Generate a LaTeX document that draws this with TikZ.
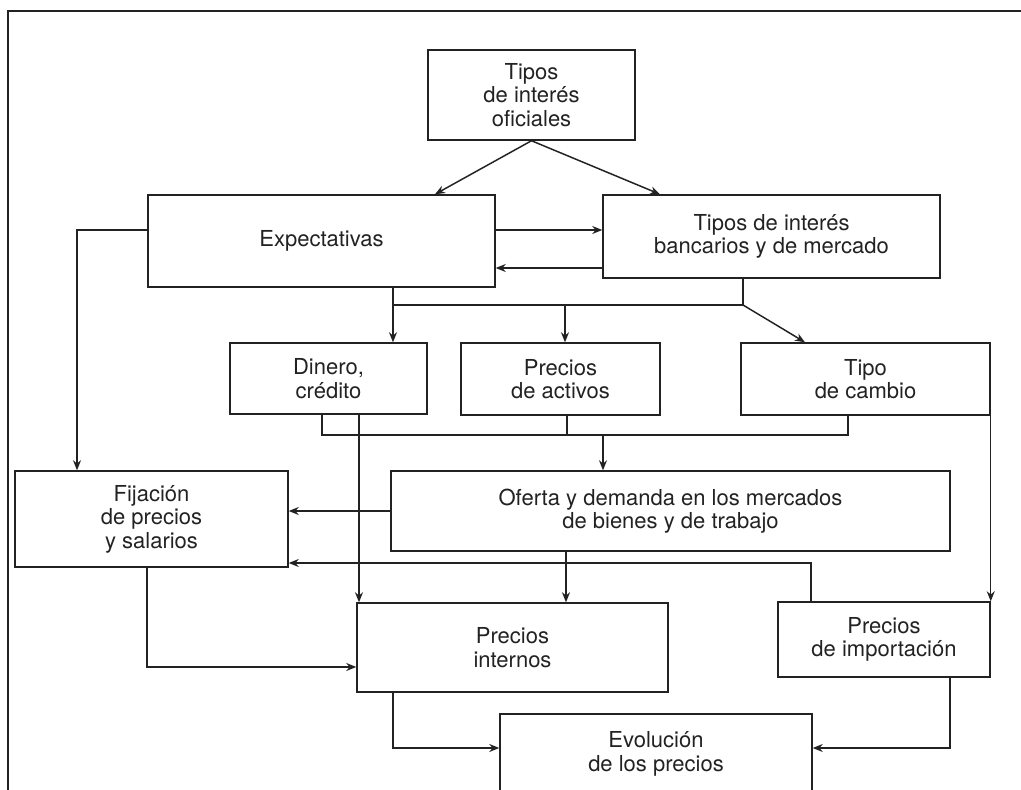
\documentclass[tikz,border=0pt]{standalone}
\usepackage{fontspec}
\setmainfont{TeX Gyre Heros}
\usetikzlibrary{arrows.meta,calc}
\definecolor{ink}{HTML}{222222}
\begin{document}
\begin{tikzpicture}[x=0.75pt,y=-0.75pt,
  box/.style={draw=ink,line width=1.1pt,align=center,inner sep=0pt,text=ink,
    font=\fontsize{16.5pt}{17.6pt}\selectfont},
  conn/.style={draw=ink,line width=1.1pt},
  arr/.style={conn,-{Stealth[length=7.5pt,width=6pt]}}]
\useasboundingbox (0,0) rectangle (1021,789);
\draw[conn] (8,800) -- (8,11) -- (1030,11);
% boxes
\node[box,minimum width=207*0.75pt,minimum height=90*0.75pt] (ofi) at (531.5,95) {Tipos\\de interés\\oficiales};
\node[box,minimum width=347*0.75pt,minimum height=92*0.75pt] (exp) at (321.5,241) {Expectativas};
\node[box,minimum width=337*0.75pt,minimum height=83*0.75pt] (ban) at (771.5,236.5) {Tipos de interés\\bancarios y de mercado};
\node[box,minimum width=197*0.75pt,minimum height=71*0.75pt] (din) at (328.5,378.5) {Dinero,\\crédito};
\node[box,minimum width=199*0.75pt,minimum height=72*0.75pt] (act) at (560.5,379) {Precios\\de activos};
\node[box,minimum width=249*0.75pt,minimum height=72*0.75pt] (cam) at (865.5,379) {Tipo\\de cambio};
\node[box,minimum width=273*0.75pt,minimum height=96*0.75pt] (fij) at (151.5,519) {Fijación\\de precios\\y salarios};
\node[box,minimum width=559*0.75pt,minimum height=80*0.75pt] (ofe) at (670.5,511) {Oferta y demanda en los mercados\\de bienes y de trabajo};
\node[box,minimum width=311*0.75pt,minimum height=89*0.75pt] (int) at (512.5,647.5) {Precios\\internos};
\node[box,minimum width=212*0.75pt,minimum height=75*0.75pt] (imp) at (884,639.5) {Precios\\de importación};
\node[box,minimum width=312*0.75pt,minimum height=80*0.75pt] (evo) at (656,754) {Evolución\\de los precios};
% reference columns / rows
\coordinate (x77) at (77,0);
\coordinate (x147) at (147,0);
\coordinate (x322) at (322,0);
\coordinate (x359) at (359,0);
\coordinate (x393) at (393,0);
\coordinate (x435) at (435,0);
\coordinate (x565) at (565,0);
\coordinate (x567) at (567,0);
\coordinate (x566) at (566,0);
\coordinate (x603) at (603,0);
\coordinate (x660) at (660,0);
\coordinate (x743) at (743,0);
\coordinate (x805) at (805,0);
\coordinate (x811) at (811,0);
\coordinate (x848) at (848,0);
\coordinate (x950) at (950,0);
\coordinate (y230) at (0,230);
\coordinate (y268) at (0,268);
\coordinate (y511) at (0,511);
\coordinate (y563) at (0,563);
\coordinate (y667) at (0,667);
\coordinate (y748) at (0,748);
\coordinate (ja) at (393,305);
\coordinate (jb) at (565,305);
\coordinate (jc) at (743,305);
\coordinate (jd) at (322,435);
\coordinate (je) at (567,435);
\coordinate (jf) at (603,435);
\coordinate (jg) at (848,435);
% connectors
\draw[arr] (ofi.south) -- (exp.north -| x435);
\draw[arr] (ofi.south) -- (ban.north -| x660);
\draw[arr] (exp.east |- y230) -- (ban.west |- y230);
\draw[arr] (ban.west |- y268) -- (exp.east |- y268);
\draw[arr] (exp.west |- y230) -| (fij.north -| x77);
\draw[conn] (exp.south -| x393) -- (ja) -- (jc) -- (ban.south -| x743);
\draw[arr] (ja) -- (din.north -| x393);
\draw[arr] (jb) -- (act.north -| x565);
\draw[arr] (jc) -- (cam.north -| x805);
\draw[conn] (din.south -| x322) -- (jd) -- (jg) -- (cam.south -| x848);
\draw[conn] (act.south -| x567) -- (je);
\draw[arr] (jf) -- (ofe.north -| x603);
\draw[arr] (din.south -| x359) -- (int.north -| x359);
\draw[arr] (cam.south east) -- (imp.north east);
\draw[arr] (ofe.west |- y511) -- (fij.east |- y511);
\draw[arr] (ofe.south -| x566) -- (int.north -| x566);
\draw[arr] (imp.north -| x811) |- (fij.east |- y563);
\draw[arr] (fij.south -| x147) |- (int.west |- y667);
\draw[arr] (int.south -| x393) |- (evo.west |- y748);
\draw[arr] (imp.south -| x950) |- (evo.east |- y748);
\end{tikzpicture}
\end{document}
